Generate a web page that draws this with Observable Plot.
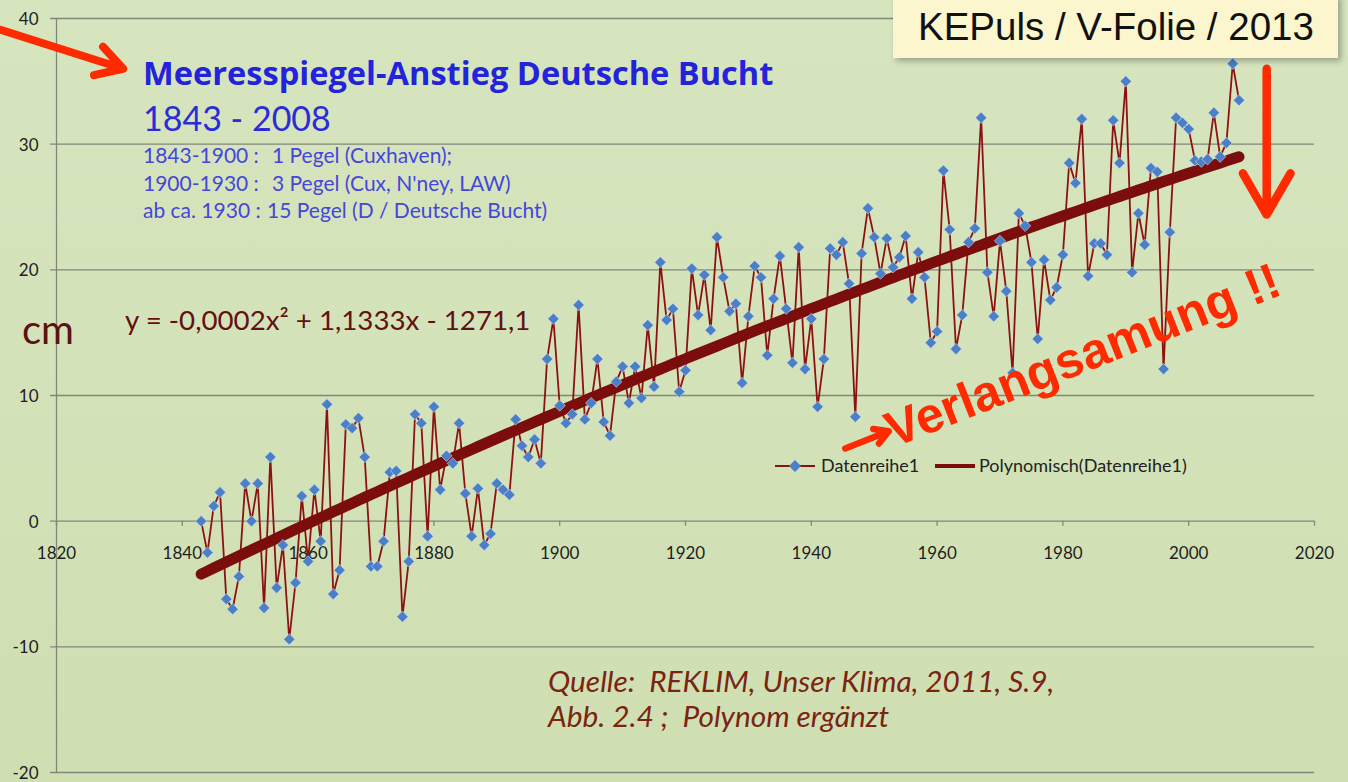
<!DOCTYPE html>
<html><head><meta charset="utf-8">
<script src="https://cdn.jsdelivr.net/npm/d3@7"></script>
<script src="https://cdn.jsdelivr.net/npm/@observablehq/plot@0.6"></script>
<style>
html,body{margin:0;padding:0;background:#d4e3b8;}
#wrap{position:relative;width:1348px;height:782px;overflow:hidden;background:linear-gradient(to bottom,#d7e5bf,#cfdfb1);}
#chart{position:absolute;left:0;top:0;}
#overlay{position:absolute;left:0;top:0;}
#overlay text{white-space:pre;}
</style></head><body>
<div id="wrap"><div id="chart"></div><svg id="overlay" width="1348" height="782" xmlns="http://www.w3.org/2000/svg"></svg></div>
<script>
// ---------- data ----------
const startYear = 1843;
const seaLevel = [
  0.0, -2.5, 1.2, 2.3, -6.2, -7.0, -4.4, 3.0, 0.0, 3.0,          // 1843-1852
  -6.9, 5.1, -5.3, -1.9, -9.4, -4.9, 2.0, -3.2, 2.5, -1.6,       // 1853-1862
  9.3, -5.8, -3.9, 7.7, 7.4, 8.2, 5.1, -3.6, -3.6, -1.6,         // 1863-1872
  3.9, 4.0, -7.6, -3.2, 8.5, 7.8, -1.2, 9.1, 2.5, 5.2,           // 1873-1882
  4.6, 7.8, 2.2, -1.2, 2.6, -1.9, -1.0, 3.0, 2.5, 2.1,           // 1883-1892
  8.1, 6.0, 5.1, 6.5, 4.6, 12.9, 16.1, 9.2, 7.8, 8.5,            // 1893-1902
  17.2, 8.1, 9.4, 12.9, 7.9, 6.8, 11.1, 12.3, 9.4, 12.3,         // 1903-1912
  9.8, 15.6, 10.7, 20.6, 16.0, 16.9, 10.3, 12.0, 20.1, 16.4,     // 1913-1922
  19.6, 15.2, 22.6, 19.4, 16.7, 17.3, 11.0, 16.3, 20.3, 19.4,    // 1923-1932
  13.2, 17.7, 21.1, 16.9, 12.6, 21.8, 12.1, 16.1, 9.1, 12.9,     // 1933-1942
  21.7, 21.2, 22.2, 18.9, 8.3, 21.3, 24.9, 22.6, 19.7, 22.5,     // 1943-1952
  20.2, 21.0, 22.7, 17.7, 21.4, 19.4, 14.2, 15.1, 27.9, 23.2,    // 1953-1962
  13.7, 16.4, 22.2, 23.3, 32.1, 19.8, 16.3, 22.3, 18.3, 11.8,    // 1963-1972
  24.5, 23.5, 20.6, 14.5, 20.8, 17.6, 18.6, 21.2, 28.5, 26.9,    // 1973-1982
  32.0, 19.5, 22.1, 22.1, 21.2, 31.9, 28.5, 35.0, 19.8, 24.5,    // 1983-1992
  22.0, 28.1, 27.8, 12.1, 23.0, 32.1, 31.7, 31.2, 28.7, 28.6,    // 1993-2002
  28.8, 32.5, 29.0, 30.1, 36.4, 33.5                              // 2003-2008
];
const xTicks = [1820, 1840, 1860, 1880, 1900, 1920, 1940, 1960, 1980, 2000, 2020];
const yTicks = [-20, -10, 0, 10, 20, 30, 40];

const titleMain = "Meeresspiegel-Anstieg Deutsche Bucht";
const titleYears = "1843 - 2008";
const noteLabels = ["1843-1900 :", "1900-1930 :", "ab ca. 1930 :"];
const noteTexts = ["1 Pegel (Cuxhaven);", "3 Pegel (Cux, N'ney, LAW)", "15 Pegel (D / Deutsche Bucht)"];
const equationText = "y = -0,0002x\u00B2 + 1,1333x - 1271,1";
const unitText = "cm";
const captionLines = ["Quelle:  REKLIM, Unser Klima, 2011, S.9,", "Abb. 2.4 ;  Polynom erg\u00E4nzt"];
const stampText = "KEPuls / V-Folie / 2013";
const legendNames = ["Datenreihe1", "Polynomisch(Datenreihe1)"];
const remarkText = "Verlangsamung !!";

// annotation arrows in data units (year, cm)
const arrowsData = [
  {x1: 1811.1, y1: 39.1, x2: 1830.6, y2: 36.0, w: 8, head: 5.6},
  {x1: 2012.4, y1: 36.0, x2: 2012.4, y2: 24.4, w: 8.5, head: 8.4},
  {x1: 1945.4, y1: 5.78, x2: 1952.3, y2: 7.15, w: 6.5, head: 4.0}
];
const remarkPos = [{x: 1953.1, y: 5.85}];

// ---------- derived ----------
const series = seaLevel.map((v, i) => ({year: startYear + i, value: v}));

// Excel-style polynomial (order 2) trend line: least squares fit of the series
function quadFit(xs, ys) {
  const mx = d3.mean(xs);
  const S = [0,0,0,0,0], T = [0,0,0];
  xs.forEach((x, i) => {
    const u = x - mx; let p = 1;
    for (let k = 0; k < 5; k++) { S[k] += p; if (k < 3) T[k] += p * ys[i]; p *= u; }
  });
  const A = [[S[0],S[1],S[2],T[0]],[S[1],S[2],S[3],T[1]],[S[2],S[3],S[4],T[2]]];
  for (let c = 0; c < 3; c++) {
    for (let r = c + 1; r < 3; r++) {
      const f = A[r][c] / A[c][c];
      for (let k = c; k < 4; k++) A[r][k] -= f * A[c][k];
    }
  }
  const co = [0,0,0];
  for (let r = 2; r >= 0; r--) {
    let s = A[r][3];
    for (let k = r + 1; k < 3; k++) s -= A[r][k] * co[k];
    co[r] = s / A[r][r];
  }
  return x => { const u = x - mx; return co[0] + co[1]*u + co[2]*u*u; };
}
const fit = quadFit(series.map(d => d.year), series.map(d => d.value));
const trend = series.map(d => ({year: d.year, value: fit(d.year)}));

const gridColor = "#80877a";
const red = "#ff2a00";

const arrowMarks = arrowsData.map(a => Plot.arrow([a], {
  x1: "x1", y1: "y1", x2: "x2", y2: "y2", stroke: red, strokeWidth: a.w, headLength: a.head,
  strokeLinecap: "round", strokeLinejoin: "round"
}));

const chart = Plot.plot({
  width: 1348, height: 782,
  marginLeft: 56, marginRight: 34, marginTop: 18, marginBottom: 10,
  x: {type: "linear", domain: [1820, 2020], axis: null},
  y: {type: "linear", domain: [-20, 40], axis: null},
  style: {background: "transparent", fontFamily: "Lato, 'Open Sans', sans-serif", fontSize: "17px", color: "#1e1e1e", overflow: "visible"},
  marks: [
    Plot.ruleY(yTicks, {y: d => d, x1: 1819.05, x2: 2020, stroke: gridColor, strokeWidth: 1.3}),
    Plot.ruleX([1820], {y1: -20, y2: 40, stroke: gridColor, strokeWidth: 1.3}),
    Plot.ruleX(xTicks, {x: d => d, y1: 0, y2: -0.4, stroke: gridColor, strokeWidth: 1.3}),
    Plot.text(yTicks, {x: 1820, y: d => d, text: d => String(d), textAnchor: "end", dx: -18, dy: 1, fontSize: 17}),
    Plot.text(xTicks, {x: d => d, y: 0, text: d => String(d), dy: 32, fontSize: 17}),
    Plot.line(series, {x: "year", y: "value", stroke: "#8c1212", strokeWidth: 1.8}),
    Plot.line(trend, {x: "year", y: "value", stroke: "#7b0d0d", strokeWidth: 11, strokeLinecap: "round"}),
    Plot.dot(series, {x: "year", y: "value", symbol: "diamond2", r: 5.1, fill: "#4b80c8", stroke: "#d6e3f2", strokeWidth: 0.8, strokeOpacity: 0.7}),
    ...arrowMarks,
    Plot.text(remarkPos, {x: "x", y: "y", text: () => remarkText, rotate: -21.5, textAnchor: "start", lineAnchor: "bottom", fill: red, fontSize: 50, fontWeight: "bold", fontFamily: "'Liberation Sans', Arial, sans-serif"})
  ]
});
document.getElementById("chart").appendChild(chart);

// ---------- overlay texts ----------
const ov = d3.select("#overlay");
const defs = ov.append("defs");
const flt = defs.append("filter").attr("id", "sh").attr("x", "-10%").attr("y", "-20%").attr("width", "130%").attr("height", "160%");
flt.append("feDropShadow").attr("dx", 3).attr("dy", 3).attr("stdDeviation", 3).attr("flood-color", "#000").attr("flood-opacity", 0.3);

ov.append("text").attr("x", 143).attr("y", 85).attr("font-family", "'Open Sans'").attr("font-weight", "bold").attr("font-size", 32.6).attr("fill", "#2323dc").text(titleMain);
ov.append("text").attr("x", 143).attr("y", 131).attr("font-family", "Lato").attr("font-size", 34).attr("fill", "#2b2bd8").text(titleYears);
const noteY = [163, 191, 218];
const noteX2 = [272, 272, 267];
noteLabels.forEach((l, i) => {
  const t = ov.append("text").attr("y", noteY[i]).attr("font-family", "Lato").attr("font-size", 21).attr("fill", "#4646dc");
  t.append("tspan").attr("x", 143).text(l);
  t.append("tspan").attr("x", noteX2[i]).text(noteTexts[i]);
});
ov.append("text").attr("x", 125).attr("y", 330).attr("font-family", "Lato").attr("font-size", 27.7).attr("fill", "#641010").text(equationText);
ov.append("text").attr("x", 22).attr("y", 344).attr("font-family", "Lato").attr("font-size", 40).attr("fill", "#5b1212").text(unitText);
captionLines.forEach((c, i) => {
  ov.append("text").attr("x", 548).attr("y", 692 + i * 35).attr("font-family", "Lato").attr("font-style", "italic").attr("font-size", 29.8).attr("fill", "#7a2412").text(c);
});

// legend
ov.append("line").attr("x1", 775).attr("x2", 815).attr("y1", 466).attr("y2", 466).attr("stroke", "#8c1212").attr("stroke-width", 2);
ov.append("path").attr("d", "M795,460 L801,466 L795,472 L789,466 Z").attr("fill", "#4b80c8");
ov.append("text").attr("x", 821).attr("y", 472).attr("font-family", "Lato").attr("font-size", 18).attr("fill", "#222").text(legendNames[0]);
ov.append("line").attr("x1", 935).attr("x2", 975).attr("y1", 466).attr("y2", 466).attr("stroke", "#7b0d0d").attr("stroke-width", 4);
ov.append("text").attr("x", 979).attr("y", 472).attr("font-family", "Lato").attr("font-size", 18).attr("fill", "#222").text(legendNames[1]);

// stamp box
ov.append("rect").attr("x", 893).attr("y", -6).attr("width", 445).attr("height", 64).attr("fill", "#fbf6cd").attr("filter", "url(#sh)");
ov.append("text").attr("x", 918).attr("y", 40).attr("font-family", "'Liberation Sans', Arial, sans-serif").attr("font-size", 38.5).attr("fill", "#111").text(stampText);
</script>
</body></html>
